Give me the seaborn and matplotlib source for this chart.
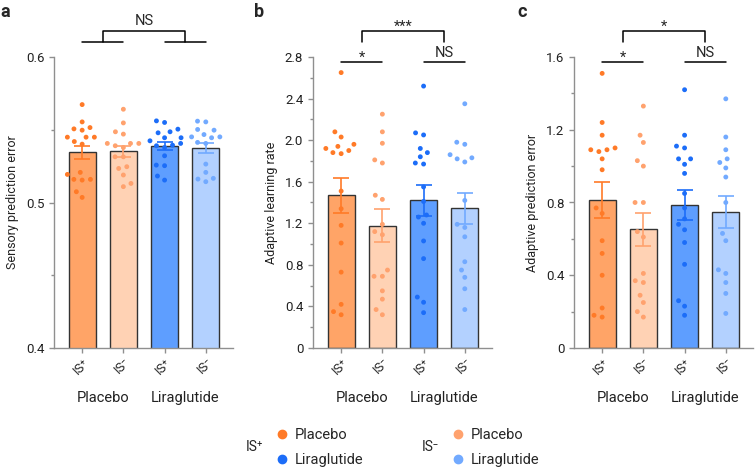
import numpy as np
import pandas as pd
import matplotlib.pyplot as plt
import seaborn as sns
from matplotlib.lines import Line2D
from matplotlib.ticker import MultipleLocator, FuncFormatter

groups = ["IS+ Placebo", "IS- Placebo", "IS+ Liraglutide", "IS- Liraglutide"]
tick_labels = ["IS\u207a", "IS\u207b", "IS\u207a", "IS\u207b"]
drug_labels = ["Placebo", "Liraglutide"]
bar_colors = ["#FFA467", "#FFD2B4", "#5E9EFF", "#B3D1FF"]
dot_colors = ["#FF7A27", "#FFA26E", "#1C6DF8", "#72AAFF"]

# a: sensory prediction error
spe_means = [0.5345, 0.5352, 0.5388, 0.5377]
spe_sem = [0.0044, 0.0037, 0.0025, 0.0034]
spe_pos_pla = [0.5673, 0.5554, 0.5515, 0.5506, 0.5497, 0.5449, 0.5449, 0.5449, 0.5419,
               0.5401, 0.5207, 0.5193, 0.5159, 0.5159, 0.5154, 0.5074, 0.5035]
spe_neg_pla = [0.5641, 0.5547, 0.5486, 0.5470, 0.5406, 0.5406, 0.5406, 0.5390, 0.5378,
               0.5314, 0.5314, 0.5246, 0.5234, 0.5189, 0.5131, 0.5109]
spe_pos_lir = [0.5561, 0.5550, 0.5504, 0.5486, 0.5479, 0.5445, 0.5445, 0.5424, 0.5406,
               0.5394, 0.5390, 0.5378, 0.5321, 0.5257, 0.5253, 0.5182, 0.5154]
spe_neg_lir = [0.5559, 0.5554, 0.5502, 0.5497, 0.5467, 0.5451, 0.5451, 0.5445, 0.5413,
               0.5406, 0.5264, 0.5207, 0.5166, 0.5161, 0.5143]

# b: adaptive learning rate
alr_means = [1.469, 1.178, 1.421, 1.344]
alr_sem = [0.168, 0.155, 0.152, 0.150]
alr_pos_pla = [2.65, 2.08, 2.03, 1.94, 1.92, 1.96, 1.87, 1.88, 1.90, 1.51, 1.34, 1.18,
               1.01, 0.73, 0.42, 0.32, 0.35]
alr_neg_pla = [2.25, 2.08, 1.97, 1.78, 1.81, 1.47, 1.43, 1.19, 1.12, 1.09, 0.75, 0.69,
               0.69, 0.55, 0.47, 0.37, 0.32]
alr_pos_lir = [2.52, 2.05, 2.07, 1.92, 1.88, 1.84, 1.77, 1.78, 1.55, 1.41, 1.26, 1.28,
               1.20, 1.03, 0.86, 0.49, 0.44, 0.34]
alr_neg_lir = [2.35, 1.98, 1.96, 1.86, 1.82, 1.83, 1.79, 1.42, 1.19, 1.16, 1.07, 0.83,
               0.75, 0.68, 0.57, 0.37]

# c: adaptive prediction error
ape_means = [0.814, 0.653, 0.788, 0.748]
ape_sem = [0.099, 0.092, 0.083, 0.088]
ape_pos_pla = [1.51, 1.24, 1.17, 1.10, 1.08, 1.09, 1.09, 1.04, 0.98, 0.77, 0.74, 0.59,
               0.52, 0.40, 0.22, 0.17, 0.18]
ape_neg_pla = [1.33, 1.17, 1.13, 1.03, 1.00, 0.80, 0.80, 0.64, 0.61, 0.41, 0.36, 0.37,
               0.29, 0.25, 0.20, 0.17]
ape_pos_lir = [1.42, 1.17, 1.10, 1.11, 1.04, 1.04, 1.01, 0.96, 0.85, 0.77, 0.71, 0.68,
               0.65, 0.58, 0.46, 0.26, 0.23, 0.18]
ape_neg_lir = [1.37, 1.16, 1.09, 1.02, 1.04, 0.99, 0.94, 0.80, 0.63, 0.59, 0.43, 0.41,
               0.36, 0.30, 0.19]

sns.set_theme(style="ticks")
plt.rcParams["font.family"] = ["Roboto", "DejaVu Sans"]
AX_COLOR = "#8f8f8f"
TXT = "#222222"


def long_df(series):
    rows = []
    for g, vals in zip(groups, series):
        rows += [(g, v) for v in vals]
    return pd.DataFrame(rows, columns=["group", "value"])


def fmt(v, pos):
    return "0" if abs(v) < 1e-9 else f"{v:.1f}"


def draw_panel(ax, series, means, sem, ylim, major, ylabel):
    bars = pd.DataFrame({"group": groups, "mean": means})
    sns.barplot(data=bars, x="group", y="mean", hue="group", order=groups,
                hue_order=groups, palette=bar_colors, saturation=1, width=0.66,
                errorbar=None, edgecolor="#333333", linewidth=1.0, legend=False,
                ax=ax, zorder=2)
    # the invisible edge width only widens the swarm spacing
    sns.swarmplot(data=long_df(series), x="group", y="value", hue="group", order=groups,
                  hue_order=groups, palette=dot_colors, size=3.5, linewidth=2.2,
                  edgecolor="none", legend=False, ax=ax, zorder=3)
    for i in range(4):
        ax.errorbar(i, means[i], yerr=sem[i], color=dot_colors[i], capsize=5.5,
                    elinewidth=1.2, capthick=1.2, zorder=4)
    ax.set_xlim(-0.683, 3.66)
    ax.set_ylim(*ylim)
    ax.yaxis.set_major_locator(MultipleLocator(major))
    ax.yaxis.set_minor_locator(MultipleLocator(major / 2))
    ax.yaxis.set_major_formatter(FuncFormatter(fmt))
    ax.set_xticks(range(4))
    ax.set_xticklabels(tick_labels, rotation=45, ha="right", rotation_mode="anchor",
                       fontsize=10, color=TXT)
    ax.set_xlabel("")
    ax.set_ylabel(ylabel, fontsize=9, color=TXT, labelpad=5)
    sns.despine(ax=ax)
    for s in ["left", "bottom"]:
        ax.spines[s].set_color(AX_COLOR)
        ax.spines[s].set_linewidth(1.0)
    ax.tick_params(axis="both", which="both", color=AX_COLOR, width=1.0, labelsize=9.5,
                   labelcolor=TXT)
    ax.tick_params(axis="both", which="major", length=3.5)
    ax.tick_params(axis="y", which="minor", length=2.5)
    ax.tick_params(axis="x", pad=2)
    trans = ax.get_xaxis_transform()
    for x, lab in zip([0.5, 2.5], drug_labels):
        ax.text(x, -0.172, lab, transform=trans, ha="center", va="center",
                fontsize=10.5, color=TXT)


def bracket(ax, y_low, y_up):
    trans = ax.get_xaxis_transform()
    kw = dict(transform=trans, color="black", lw=1.1, clip_on=False)
    ax.plot([0, 1], [y_low, y_low], **kw)
    ax.plot([2, 3], [y_low, y_low], **kw)
    drop = max(y_low, 1.052)
    ax.plot([0.5, 0.5, 2.5, 2.5], [drop, y_up, y_up, drop], **kw)
    return trans


fig = plt.figure(figsize=(7.55, 4.69), dpi=100)
W, H = 755, 469
lefts = [54, 313, 574]
axes = [fig.add_axes([l / W, 121 / H, 179 / W, 291 / H]) for l in lefts]

draw_panel(axes[0], [spe_pos_pla, spe_neg_pla, spe_pos_lir, spe_neg_lir],
           spe_means, spe_sem, (0.4, 0.6), 0.1, "Sensory prediction error")
draw_panel(axes[1], [alr_pos_pla, alr_neg_pla, alr_pos_lir, alr_neg_lir],
           alr_means, alr_sem, (0, 2.8), 0.4, "Adaptive learning rate")
draw_panel(axes[2], [ape_pos_pla, ape_neg_pla, ape_pos_lir, ape_neg_lir],
           ape_means, ape_sem, (0, 1.6), 0.4, "Adaptive prediction error")

# significance
t = bracket(axes[0], 1.0526, 1.088)
axes[0].text(1.5, 1.110, "NS", transform=t, ha="center", va="baseline", fontsize=10.5)
for ax, top in [(axes[1], "***"), (axes[2], "*")]:
    t = bracket(ax, 0.982, 1.088)
    ax.text(0.5, 0.985, "*", transform=t, ha="center", va="baseline", fontsize=10.5)
    ax.text(2.5, 1.000, "NS", transform=t, ha="center", va="baseline", fontsize=10.5)
    ax.text(1.5, 1.090, top, transform=t, ha="center", va="baseline", fontsize=10.5)

for x, lab in [(0, "a"), (254, "b"), (517, "c")]:
    fig.text(x / W, 1 - 12 / H, lab, fontsize=13, fontweight="bold", va="center",
             ha="left")

# legend
for tx, lx, lab, cols in [(246, 277, "IS\u207a", dot_colors[0::2]),
                          (422, 453, "IS\u207b", dot_colors[1::2])]:
    fig.text(tx / W, 1 - 447 / H, lab, fontsize=10, va="center", ha="left", color=TXT)
    handles = [Line2D([], [], marker="o", linestyle="", color=c, markersize=6)
               for c in cols]
    fig.legend(handles=handles, labels=drug_labels, loc="center left",
               bbox_to_anchor=(lx / W, 1 - 447.5 / H), frameon=False, fontsize=10.5,
               handlelength=0.7, handletextpad=0.5, labelspacing=0.75, borderpad=0,
               borderaxespad=0)

fig.savefig("out.png", dpi=100)
